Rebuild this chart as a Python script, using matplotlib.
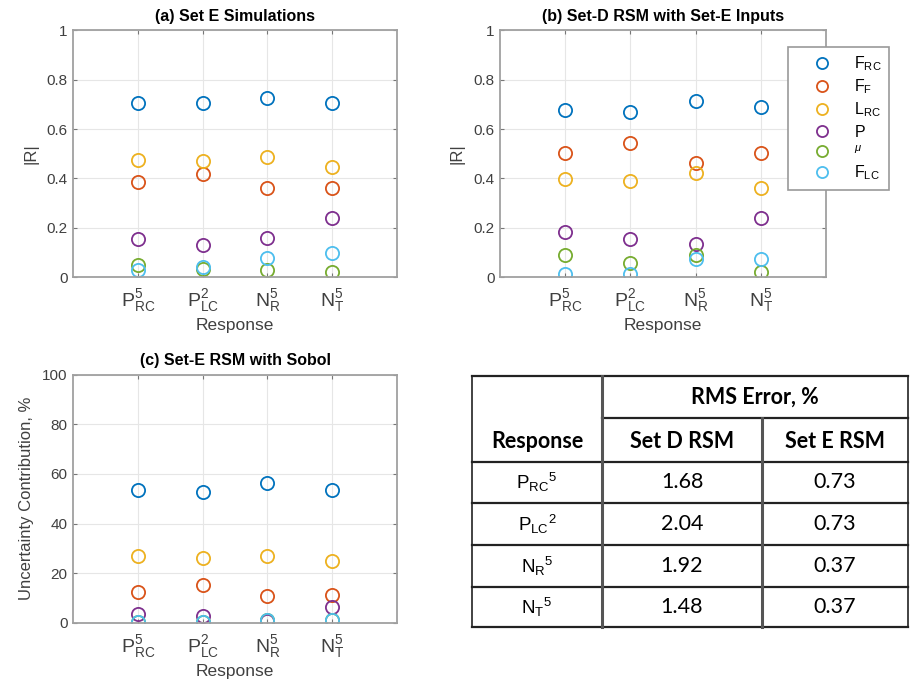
import numpy as np
import matplotlib.pyplot as plt
from matplotlib.lines import Line2D

plt.rcParams['font.family'] = ['Liberation Sans', 'DejaVu Sans']
plt.rcParams['mathtext.fontset'] = 'custom'
plt.rcParams['mathtext.rm'] = 'Liberation Sans'
plt.rcParams['mathtext.it'] = 'Liberation Sans:italic'

# responses on the x axis
responses = [r'$\mathrm{P}^{5}_{\mathrm{RC}}$', r'$\mathrm{P}^{2}_{\mathrm{LC}}$',
             r'$\mathrm{N}^{5}_{\mathrm{R}}$', r'$\mathrm{N}^{5}_{\mathrm{T}}$']
inputs = [r'$\mathrm{F}_{\mathrm{RC}}$', r'$\mathrm{F}_{\mathrm{F}}$', r'$\mathrm{L}_{\mathrm{RC}}$',
          r'$\mathrm{P}$', r'$^{\mu}$', r'$\mathrm{F}_{\mathrm{LC}}$']
colors = ['#0072bd', '#d95319', '#edb120', '#7e2f8e', '#77ac30', '#4dbeee']

# (a) Set E simulations, |R| per input, order F_RC, F_F, L_RC, P, mu, F_LC
a_frc = [0.705, 0.705, 0.727, 0.707]
a_ff = [0.385, 0.42, 0.361, 0.361]
a_lrc = [0.476, 0.47, 0.488, 0.446]
a_p = [0.155, 0.13, 0.157, 0.241]
a_mu = [0.05, 0.035, 0.031, 0.02]
a_flc = [0.03, 0.04, 0.08, 0.10]

# (b) Set-D RSM with Set-E inputs
b_frc = [0.677, 0.671, 0.713, 0.691]
b_ff = [0.502, 0.545, 0.462, 0.502]
b_lrc = [0.398, 0.39, 0.424, 0.363]
b_p = [0.183, 0.155, 0.135, 0.238]
b_mu = [0.091, 0.057, 0.091, 0.023]
b_flc = [0.015, 0.015, 0.072, 0.072]

# (c) Set-E RSM with Sobol, %
c_frc = [53.5, 52.8, 56.3, 53.6]
c_ff = [12.5, 15.2, 10.9, 11.2]
c_lrc = [26.9, 26.3, 26.9, 25.1]
c_p = [3.6, 2.9, 1.0, 6.3]
c_mu = [0.5, 0.5, 1.2, 1.2]
c_flc = [0.5, 0.5, 1.2, 1.2]

# RMS error table
tab_resp = [r'$\mathrm{P}_{\mathrm{RC}}{}^{5}$', r'$\mathrm{P}_{\mathrm{LC}}{}^{2}$',
            r'$\mathrm{N}_{\mathrm{R}}{}^{5}$', r'$\mathrm{N}_{\mathrm{T}}{}^{5}$']
tab_setd = ['1.68', '2.04', '1.92', '1.48']
tab_sete = ['0.73', '0.73', '0.37', '0.37']

fig = plt.figure(figsize=(9.14, 6.88), dpi=100)


def panel(rect, series, title, ylabel, ymax, yticks, ytl):
    ax = fig.add_axes(rect)
    x = np.arange(1, 5)
    for vals, col in zip(series, colors):
        ax.plot(x, vals, 'o', mfc='none', mec=col, ms=9.5, mew=1.3, ls='none')
    ax.set_xlim(0, 5)
    ax.set_ylim(0, ymax)
    ax.set_xticks(x)
    ax.set_xticklabels(responses, fontsize=14, color='#404040')
    ax.set_yticks(yticks)
    ax.set_yticklabels(ytl, fontsize=11, color='#404040')
    ax.tick_params(direction='in', length=3, color='#777777', pad=4)
    ax.tick_params(axis='x', pad=7)
    ax.tick_params(axis='y', right=True)
    ax.tick_params(axis='x', top=True)
    ax.grid(True, color='#e6e6e6', lw=0.8)
    ax.set_axisbelow(True)
    for s in ax.spines.values():
        s.set_color('#a0a0a0')
        s.set_linewidth(1.3)
    ax.set_title(title, fontsize=11.5, fontweight='bold', pad=7)
    ax.set_ylabel(ylabel, fontsize=12, color='#404040', labelpad=6)
    ax.set_xlabel('Response', fontsize=12.5, color='#404040', labelpad=3)
    return ax


ax_a = panel([0.0799, 0.597, 0.3545, 0.359],
             [a_frc, a_ff, a_lrc, a_p, a_mu, a_flc],
             '(a) Set E Simulations', '|R|', 1,
             [0, 0.2, 0.4, 0.6, 0.8, 1], ['0', '0.2', '0.4', '0.6', '0.8', '1'])
ax_b = panel([0.547, 0.597, 0.3567, 0.359],
             [b_frc, b_ff, b_lrc, b_p, b_mu, b_flc],
             '(b) Set-D RSM with Set-E Inputs', '|R|', 1,
             [0, 0.2, 0.4, 0.6, 0.8, 1], ['0', '0.2', '0.4', '0.6', '0.8', '1'])
ax_c = panel([0.0799, 0.0945, 0.3545, 0.361],
             [c_frc, c_ff, c_lrc, c_p, c_mu, c_flc],
             '(c) Set-E RSM with Sobol', 'Uncertainty Contribution, %', 100,
             [0, 20, 40, 60, 80, 100], ['0', '20', '40', '60', '80', '100'])

handles = [Line2D([], [], marker='o', mfc='none', mec=c, ms=8, mew=1.3, ls='none') for c in colors]
leg = fig.legend(handles, inputs, loc='upper left', bbox_to_anchor=(788 / 914, 1 - 47 / 688),
                 fontsize=11.5, handletextpad=0.3, labelspacing=0.28, borderpad=0.45,
                 fancybox=False, framealpha=1, edgecolor='#999999', borderaxespad=0,
                 handlelength=3.4)
leg.get_frame().set_linewidth(1.2)

# table drawn in pixel-like figure coordinates
tax = fig.add_axes([0, 0, 1, 1])
tax.set_xlim(0, 914)
tax.set_ylim(688, 0)
tax.axis('off')
xl, x1, x2, xr = 472, 602, 762, 908
yt, ysub, yh, yb = 376, 418, 462, 627
rows = [462, 503, 545, 587, 627]
lc = '#222222'
tax.plot([xl, xr], [yt, yt], color=lc, lw=1.6)
tax.plot([x1, xr], [ysub, ysub], color=lc, lw=1.6)
for yy in rows:
    tax.plot([xl, xr], [yy, yy], color=lc, lw=1.6)
tax.plot([xl, xl], [yt, yb], color=lc, lw=1.2)
tax.plot([x1, x1], [yt, yb], color='#555555', lw=2.2)
tax.plot([x2, x2], [ysub, yb], color='#555555', lw=2.2)
tax.plot([xr, xr], [yt, yb], color=lc, lw=1.2)

tfont = ['Lato', 'DejaVu Sans']
tax.text((x1 + xr) / 2, (yt + ysub) / 2, 'RMS Error, %', ha='center', va='center',
         fontsize=15.5, fontweight='bold', family=tfont)
tax.text((xl + x1) / 2, (ysub + yh) / 2 + 1, 'Response', ha='center', va='center',
         fontsize=15.5, fontweight='bold', family=tfont)
tax.text((x1 + x2) / 2, (ysub + yh) / 2 + 1, 'Set D RSM', ha='center', va='center',
         fontsize=15.5, fontweight='bold', family=tfont)
tax.text((x2 + xr) / 2, (ysub + yh) / 2 + 1, 'Set E RSM', ha='center', va='center',
         fontsize=15.5, fontweight='bold', family=tfont)
for i in range(4):
    yc = (rows[i] + rows[i + 1]) / 2
    tax.text((xl + x1) / 2, yc, tab_resp[i], ha='center', va='center', fontsize=13.5)
    tax.text((x1 + x2) / 2, yc, tab_setd[i], ha='center', va='center', fontsize=15.5, family=tfont)
    tax.text((x2 + xr) / 2, yc, tab_sete[i], ha='center', va='center', fontsize=15.5, family=tfont)

fig.savefig('out.png', dpi=100)
